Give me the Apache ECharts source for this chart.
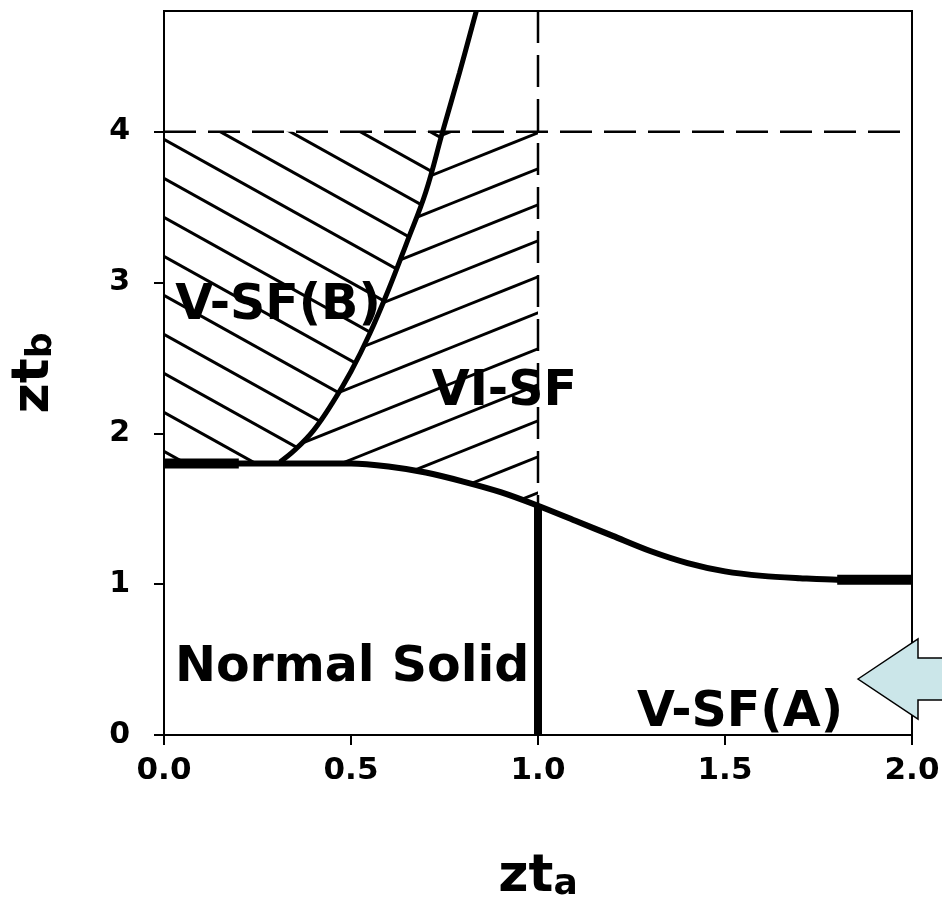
<!DOCTYPE html>
<html>
<head>
<meta charset="utf-8">
<script src="https://cdn.jsdelivr.net/npm/echarts@6/dist/echarts.min.js"></script>
<style>
  html, body { margin: 0; padding: 0; background: #fff; }
  #chart { width: 942px; height: 924px; }
</style>
</head>
<body>
<div id="chart"></div>
<script>
// lower phase boundary (thick curve)
var lowerX = [0, 0.1, 0.2, 0.3, 0.4, 0.5, 0.6, 0.7, 0.8, 0.9, 1.0, 1.1, 1.2, 1.3, 1.4, 1.5, 1.6, 1.7, 1.8, 1.9, 2.0];
var lowerY = [1.80, 1.80, 1.80, 1.80, 1.80, 1.80, 1.78, 1.74, 1.68, 1.61, 1.52, 1.42, 1.32, 1.22, 1.14, 1.085, 1.055, 1.04, 1.03, 1.03, 1.03];

// steep boundary between V-SF(B) and VI-SF
var upperX = [0.31, 0.35, 0.40, 0.45, 0.50, 0.55, 0.60, 0.65, 0.70, 0.745, 0.79, 0.835];
var upperY = [1.81, 1.89, 2.02, 2.20, 2.41, 2.66, 2.95, 3.27, 3.60, 4.00, 4.39, 4.80];

var limitA = 1;   // zt_a = 1
var limitB = 4;   // zt_b = 4

var xTicks = [0, 0.5, 1, 1.5, 2];
var yTicks = [0, 1, 2, 3, 4];

var regionNames = ['V-SF(B)', 'VI-SF', 'Normal Solid', 'V-SF(A)'];
var regionX = [0.305, 0.91, 0.503, 1.54];
var regionY = [2.84, 2.27, 0.44, 0.146];

function pairs(xs, ys) {
  return xs.map(function (x, i) { return [x, ys[i]]; });
}
var lower = pairs(lowerX, lowerY);
var upper = pairs(upperX, upperY);
var lowerAtA = lower.filter(function (p) { return p[0] === limitA; })[0];

// hatched areas
var upperIn = upper.filter(function (p) { return p[1] <= limitB; });
var startX = upper[0][0];
var leftPoly = [[0, limitB]]
  .concat(upperIn.slice().reverse())
  .concat(lower.filter(function (p) { return p[0] < startX; }).reverse());
var rightPoly = upperIn.slice()
  .concat([[limitA, limitB]])
  .concat(lower.filter(function (p) { return p[0] > startX && p[0] <= limitA; }).reverse());

function hatch(w, h, slope, offset) {
  var c = document.createElement('canvas');
  c.width = w; c.height = h;
  var ctx = c.getContext('2d');
  ctx.strokeStyle = '#000';
  ctx.lineWidth = 3;
  for (var k = -3; k <= 3; k++) {
    var y0 = offset + k * h;
    ctx.beginPath();
    ctx.moveTo(-w, y0 - slope * w);
    ctx.lineTo(2 * w, y0 + 2 * slope * w);
    ctx.stroke();
  }
  return c;
}
var patterns = [
  { image: hatch(70, 39, 39 / 70, 9), repeat: 'repeat' },
  { image: hatch(90, 36, -36 / 90, 24), repeat: 'repeat' }
];
var polys = [leftPoly, rightPoly];

var chart = echarts.init(document.getElementById('chart'));

var nameRich = {
  m: { fontFamily: 'DejaVu Sans', fontWeight: 'bold', fontSize: 52, color: '#000', lineHeight: 56, verticalAlign: 'top' },
  s: { fontFamily: 'DejaVu Sans', fontWeight: 'bold', fontSize: 36, color: '#000', lineHeight: 56, verticalAlign: 'top', padding: [16, 0, 0, 0] }
};

var option = {
  animation: false,
  backgroundColor: '#fff',
  grid: {
    left: 164, right: 30, top: 11, bottom: 189,
    show: true, borderColor: '#000', borderWidth: 2,
    outerBoundsMode: 'none'
  },
  xAxis: {
    type: 'value', min: 0, max: 2, interval: 0.5,
    name: '{m|zt}{s|a}', nameLocation: 'middle', nameGap: 116,
    nameTextStyle: { rich: nameRich },
    axisLine: { lineStyle: { color: '#000', width: 2 } },
    axisTick: { inside: false, length: 10, lineStyle: { color: '#000', width: 2 } },
    axisLabel: {
      color: '#000', fontFamily: 'DejaVu Sans', fontWeight: 'bold', fontSize: 31, margin: 20,
      formatter: function (v) { return v.toFixed(1); }
    },
    splitLine: { show: false }
  },
  yAxis: {
    type: 'value', min: 0, max: 4.8, interval: 1,
    name: '{m|zt}{s|b}', nameLocation: 'middle', nameGap: 100, nameRotate: 90,
    nameTextStyle: { rich: nameRich },
    axisLine: { lineStyle: { color: '#000', width: 2 } },
    axisTick: { inside: false, length: 10, customValues: yTicks, lineStyle: { color: '#000', width: 2 } },
    axisLabel: {
      color: '#000', fontFamily: 'DejaVu Sans', fontWeight: 'bold', fontSize: 30, margin: 34,
      customValues: yTicks,
      formatter: function (v) { return yTicks.indexOf(v) >= 0 ? String(v) : ''; }
    },
    splitLine: { show: false }
  },
  series: [
    {
      type: 'custom',
      coordinateSystem: 'cartesian2d',
      data: [[0, 2], [1, 2]],
      z: 1,
      silent: true,
      renderItem: function (params, api) {
        var pts = polys[params.dataIndex].map(function (p) { return api.coord(p); });
        return {
          type: 'polygon',
          shape: { points: pts },
          style: { fill: patterns[params.dataIndex], stroke: null }
        };
      }
    },
    {
      type: 'line', z: 3, showSymbol: false, silent: true,
      data: [[0, limitB], [2, limitB]],
      lineStyle: { color: '#000', width: 2.5, type: [32, 12] }
    },
    {
      type: 'line', z: 3, showSymbol: false, silent: true,
      data: [[limitA, 4.8], lowerAtA],
      lineStyle: { color: '#000', width: 2.5, type: [32, 12] }
    },
    {
      type: 'line', z: 4, showSymbol: false, silent: true,
      data: [lowerAtA, [limitA, 0]],
      lineStyle: { color: '#000', width: 8 }
    },
    {
      type: 'line', z: 5, showSymbol: false, silent: true, smooth: 0.3,
      data: lower,
      lineStyle: { color: '#000', width: 6 }
    },
    {
      type: 'line', z: 5, showSymbol: false, silent: true,
      data: lower.filter(function (p) { return p[0] <= 0.25; }),
      lineStyle: { color: '#000', width: 10 }
    },
    {
      type: 'line', z: 5, showSymbol: false, silent: true,
      data: lower.filter(function (p) { return p[0] >= 1.8; }),
      lineStyle: { color: '#000', width: 10 }
    },
    {
      type: 'line', z: 5, showSymbol: false, silent: true, smooth: 0.4,
      data: upper,
      lineStyle: { color: '#000', width: 5 }
    },
    {
      type: 'custom',
      coordinateSystem: 'cartesian2d',
      z: 6,
      silent: true,
      data: regionNames.map(function (n, i) { return [regionX[i], regionY[i], i]; }),
      renderItem: function (params, api) {
        var p = api.coord([api.value(0), api.value(1)]);
        return {
          type: 'text',
          x: p[0], y: p[1],
          style: {
            text: regionNames[params.dataIndex],
            fill: '#000',
            font: 'bold 49px "DejaVu Sans"',
            align: 'center',
            verticalAlign: 'middle'
          }
        };
      }
    }
  ],
  graphic: [
    {
      type: 'polygon', z: 100,
      shape: { points: [[858, 679], [918, 639], [918, 658], [950, 658], [950, 700], [918, 700], [918, 719]] },
      style: { fill: '#cbe6e9', stroke: '#000', lineWidth: 1.5 }
    }
  ]
};

chart.setOption(option);
</script>
</body>
</html>
